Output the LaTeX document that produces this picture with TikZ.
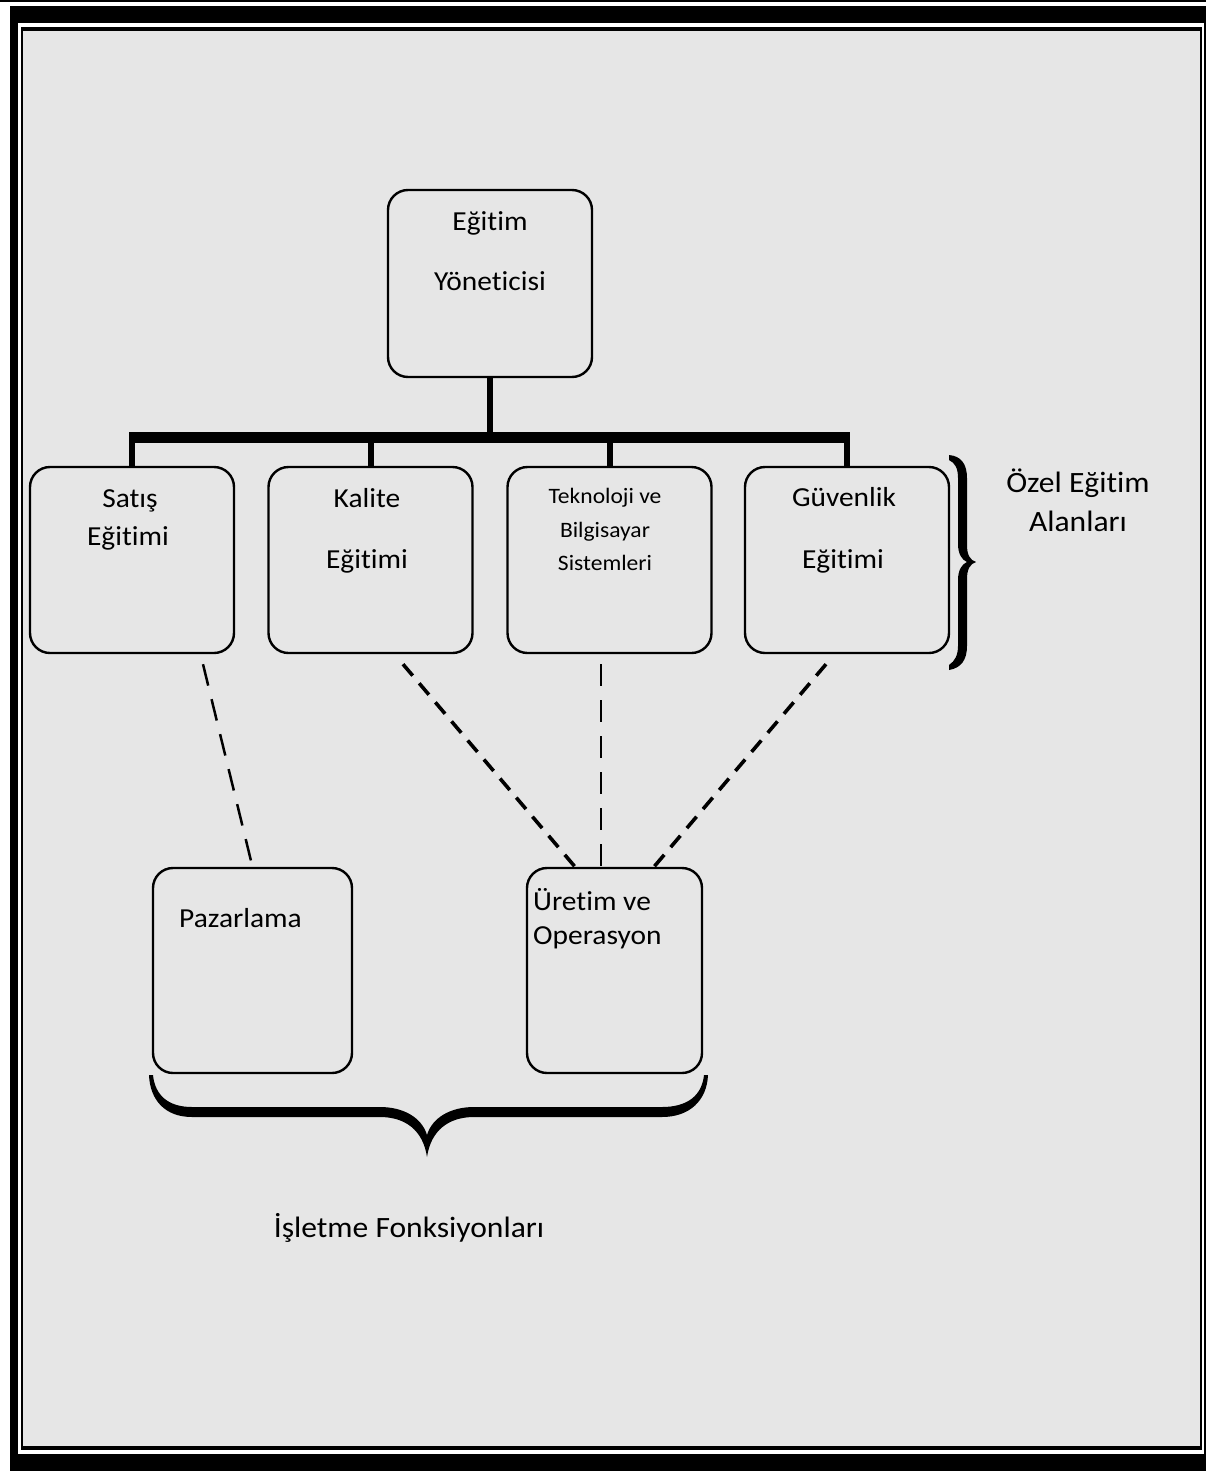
\documentclass[tikz,border=0pt]{standalone}
\usepackage{fontspec}
\setmainfont{Carlito}[FakeStretch=1.07, Ligatures={NoCommon}]
\usetikzlibrary{calc}
\definecolor{bg}{HTML}{E6E6E6}
\begin{document}
\begin{tikzpicture}[x=1pt,y=-1pt,
  box/.style={draw=black, line width=2.4pt, rounded corners=20pt, inner sep=0pt},
  txt/.style={font=\fontsize{27.5}{34}\selectfont, inner sep=0pt, anchor=base},
  big/.style={font=\fontsize{29.5}{36}\selectfont, inner sep=0pt, anchor=base},
  txtl/.style={txt, anchor=base west},
  small/.style={font=\fontsize{22}{26}\selectfont, inner sep=0pt, anchor=base},
  stub/.style={line width=6pt},
  dlong/.style={line width=2.5pt, dash pattern=on 22pt off 14pt},
  dshort/.style={line width=3.6pt, dash pattern=on 15pt off 10pt}]
\useasboundingbox (0,0) rectangle (1206,1475);
% frame
\fill[white] (0,0) rectangle (1206,1475);
\fill[black] (0,0) rectangle (1206,2);
\fill[black] (10,6) rectangle (1206,1471);
\fill[white] (18,23) rectangle (1204,1454);
\fill[black] (21,27) rectangle (1202,1450);
\fill[bg] (23,31) rectangle (1200,1446);
% boxes
\node[box, minimum width=204pt, minimum height=187pt] (top) at (490,283.5) {};
\node[box, minimum width=204pt, minimum height=186pt] (satis) at (132,560) {};
\node[box, minimum width=204pt, minimum height=186pt] (kalite) at (370.5,560) {};
\node[box, minimum width=204pt, minimum height=186pt] (tekno) at (609.5,560) {};
\node[box, minimum width=204pt, minimum height=186pt] (guv) at (847,560) {};
\node[box, minimum width=199pt, minimum height=205pt] (paz) at (252.5,970.5) {};
\node[box, minimum width=175pt, minimum height=205pt] (uret) at (614.5,970.5) {};
% tree
\coordinate (bar) at (490,437.5);
\draw[line width=6.5pt] (top.south) -- (top.south |- bar);
\foreach \n in {satis,kalite,tekno,guv}
  \draw[stub] (\n.north) -- (\n.north |- bar);
\draw[line width=11pt] ($(satis.north |- bar)+(-3,0)$) -- ($(guv.north |- bar)+(3,0)$);
% dashed links
\draw[dlong] ($(satis.south)+(71,10)$) -- ($(paz.north)+(-1.5,-6)$);
\draw[dshort] ($(kalite.south)+(32.5,10)$) -- ($(uret.north)+(-39.5,0)$);
\draw[dlong] ($(tekno.south)+(-8.5,10)$) -- ($(uret.north)+(-13.5,0)$);
\draw[dshort] ($(guv.south)+(-21,10)$) -- ($(uret.north)+(39.5,0)$);
% texts
\node[txt] (t1) at (490,230) {Eğitim};
\node[txt] (t2) at (490,290) {Yöneticisi};
\node[txt] (s1) at (130,507) {Satış};
\node[txt] (s2) at (128,545) {Eğitimi};
\node[txt] (k1) at (367,507) {Kalite};
\node[txt] (k2) at (367,568) {Eğitimi};
\node[small] (e1) at (605,503) {Teknoloji ve};
\node[small] (e2) at (605,537) {Bilgisayar};
\node[small] (e3) at (605,570) {Sistemleri};
\node[txt] (g1) at (844,506) {Güvenlik};
\node[txt] (g2) at (843,568) {Eğitimi};
\node[big] (o1) at (1078,492) {Özel Eğitim};
\node[big] (o2) at (1078,531) {Alanları};
\node[txtl] (p1) at (179,927) {Pazarlama};
\node[txtl] (u1) at (533,910) {Üretim ve};
\node[txtl] (u2) at (533,944) {Operasyon};
\node[big] (i1) at (409,1237) {İşletme Fonksiyonları};
% right brace
\fill[black] (949,455) .. controls (961,456) and (967,464) .. (967,478)
  -- (967,545) .. controls (967,555) and (970,560) .. (976,562)
  .. controls (970,564) and (967,569) .. (967,579)
  -- (967,646) .. controls (967,660) and (961,668) .. (949,670)
  -- (949,665) .. controls (955,661) and (958,655) .. (958,646)
  -- (958,580) .. controls (958,570) and (962,564) .. (967,562)
  .. controls (962,560) and (958,554) .. (958,544)
  -- (958,478) .. controls (958,468) and (955,463) .. (949,460) -- cycle;
% bottom brace
\fill[black] (149,1075) .. controls (150,1100) and (165,1117) .. (192,1117)
  -- (380,1117) .. controls (405,1117) and (423,1130) .. (427,1157)
  .. controls (431,1130) and (449,1117) .. (474,1117)
  -- (662,1117) .. controls (690,1117) and (707,1100) .. (708,1075)
  -- (704,1075) .. controls (702,1095) and (688,1107) .. (662,1107)
  -- (474,1107) .. controls (450,1107) and (432,1118) .. (427,1135)
  .. controls (422,1118) and (404,1107) .. (380,1107)
  -- (192,1107) .. controls (168,1107) and (155,1095) .. (153,1075) -- cycle;
\end{tikzpicture}
\end{document}
